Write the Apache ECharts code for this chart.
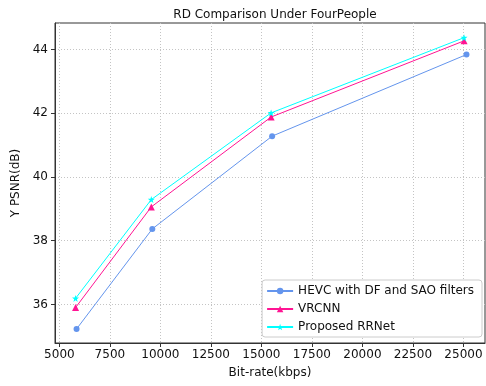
<!DOCTYPE html>
<html><head><meta charset="utf-8">
<script src="https://cdn.jsdelivr.net/npm/echarts@6/dist/echarts.min.js"></script>
<style>html,body{margin:0;padding:0;background:#fff}#c{width:486px;height:386px}</style>
</head><body><div id="c"></div>
<script>
const seriesNames = ['HEVC with DF and SAO filters', 'VRCNN', 'Proposed RRNet'];
const hevcX = [5850, 9600, 15530, 25150];
const hevcY = [35.23, 38.37, 41.28, 43.84];
const vrcnnX = [5800, 9550, 15480, 25030];
const vrcnnY = [35.9, 39.06, 41.88, 44.27];
const rrnetX = [5800, 9550, 15480, 25030];
const rrnetY = [36.19, 39.29, 42.01, 44.37];
const xTicks = [5000, 7500, 10000, 12500, 15000, 17500, 20000, 22500, 25000];
const yTicks = [36, 38, 40, 42, 44];
const colors = ['#6495ED', '#FF1493', '#00FFFF'];
const symbols = ['circle', 'triangle', 'path://M0,-10 L2.35,-3.24 L9.51,-3.09 L3.8,1.24 L5.88,8.09 L0,4 L-5.88,8.09 L-3.8,1.24 L-9.51,-3.09 L-2.35,-3.24 Z'];
const symSizes = [6, 7, 7];
const font = 'DejaVu Sans';

function zip(xs, ys) { return xs.map((x, i) => [x, ys[i]]); }
const datas = [zip(hevcX, hevcY), zip(vrcnnX, vrcnnY), zip(rrnetX, rrnetY)];

const chart = echarts.init(document.getElementById('c'), null, {renderer: 'canvas'});
chart.setOption({
  animation: false,
  backgroundColor: '#fff',
  title: {text: 'RD Comparison Under FourPeople', left: 270, top: 4, textAlign: 'center',
    textStyle: {fontFamily: font, fontSize: 12, fontWeight: 'normal', color: '#111'}},
  grid: {left: 55, right: 1, top: 23, bottom: 43, show: true, borderColor: '#333', borderWidth: 1, backgroundColor: 'transparent'},
  legend: {
    orient: 'vertical', right: 4, bottom: 49, itemWidth: 26, itemHeight: 8, itemGap: 6,
    borderColor: '#ccc', borderWidth: 1, borderRadius: 3, padding: [5, 8, 4, 4], backgroundColor: '#fff',
    textStyle: {fontFamily: font, fontSize: 12, color: '#111'},
    data: seriesNames
  },
  xAxis: {
    type: 'value', min: 4783, max: 26067,
    name: 'Bit-rate(kbps)', nameLocation: 'middle', nameGap: 24,
    nameTextStyle: {fontFamily: font, fontSize: 12, color: '#111'},
    axisLine: {show: true, lineStyle: {color: '#333'}},
    axisTick: {show: true, inside: false, length: 4, customValues: xTicks, lineStyle: {color: '#333'}},
    axisLabel: {customValues: xTicks, formatter: v => String(v), fontFamily: font, fontSize: 12, color: '#111', margin: 6},
    splitLine: {show: true, lineStyle: {color: '#c4c4c4', type: [1, 2], width: 1}}
  },
  yAxis: {
    type: 'value', min: 34.79, max: 44.83,
    name: 'Y PSNR(dB)', nameLocation: 'middle', nameGap: 31, nameRotate: 90,
    nameTextStyle: {fontFamily: font, fontSize: 12, color: '#111'},
    axisLine: {show: true, lineStyle: {color: '#333'}},
    axisTick: {show: true, inside: false, length: 4, customValues: yTicks, lineStyle: {color: '#333'}},
    axisLabel: {customValues: yTicks, formatter: v => String(v), fontFamily: font, fontSize: 12, color: '#111', margin: 7},
    splitLine: {show: true, lineStyle: {color: '#c4c4c4', type: [1, 2], width: 1}}
  },
  series: seriesNames.map((n, i) => ({
    name: n, type: 'line', data: datas[i], symbol: symbols[i], symbolSize: symSizes[i],
    showAllSymbol: true, z: 3 + i,
    itemStyle: {color: colors[i]}, lineStyle: {color: colors[i], width: 1}
  }))
});
</script></body></html>
